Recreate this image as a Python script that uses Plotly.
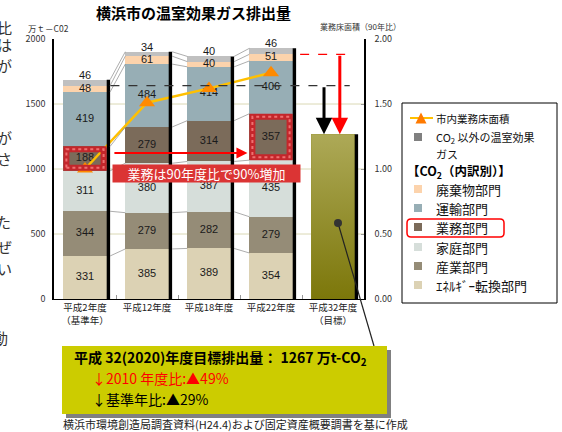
import plotly.graph_objects as go

# ---------------- data ----------------
categories = ["平成2年度<br>（基準年）", "平成12年度", "平成18年度", "平成22年度", "平成32年度<br>（目標）"]
energy = [331, 385, 389, 354]        # ｴﾈﾙｷﾞｰ転換部門
industry = [344, 279, 282, 279]      # 産業部門
household = [311, 380, 387, 435]     # 家庭部門
business = [188, 279, 314, 357]      # 業務部門
transport = [419, 484, 414, 406]     # 運輸部門
waste = [48, 61, 40, 51]             # 廃棄物部門
other_gases = [46, 34, 40, 46]       # CO2以外の温室効果ガス
target_2020 = [1267]                 # 平成32年度目標
floor_area = [1.00, 1.51, 1.62, 1.74]  # 市内業務床面積(90年比)
left_ticks = [0, 500, 1000, 1500, 2000]
right_ticks = [0, 0.5, 1.0, 1.5, 2.0]

series_names = ["ｴﾈﾙｷﾞｰ転換部門", "産業部門", "家庭部門", "業務部門", "運輸部門", "廃棄物部門",
                "CO2以外の温室効果ガス"]
series_values = [energy, industry, household, business, transport, waste, other_gases]
series_colors = ["#DCD2B4", "#958C77", "#D6DEDA", "#7B6B5A", "#97AEB5", "#FCD3AC", "#C0C0C0"]
legend_other_color = "#808080"

FONT = "Noto Sans CJK JP"
W, H = 562, 432
L, R, T, B = 54, 364, 39, 299   # plot area in pixels


def X(px):
    return (px - L) / (R - L)


def Y(py):
    return (B - py) / (B - T)


annotations = []
shapes = []


def text(px, py, s, size, color="#111", anchor="left", bold=False, **kw):
    annotations.append(dict(x=X(px), y=Y(py), xref="paper", yref="paper", xanchor=anchor,
                            yanchor="middle", text=f"<b>{s}</b>" if bold else s, showarrow=False,
                            font=dict(family=FONT, size=size, color=color), **kw))


fig = go.Figure()
xs = list(range(len(energy)))
BW = 0.7

for name, vals, col in zip(series_names, series_values, series_colors):
    fig.add_bar(x=xs, y=vals, name=name, width=BW, marker=dict(color=col, line=dict(width=0)),
                showlegend=False)

fig.add_bar(x=[4], y=target_2020, name="平成32年度目標", width=BW,
            marker=dict(color="#958F2E", line=dict(width=0)), showlegend=False)
tv = target_2020[0]
fig.add_scatter(x=[4 - BW / 2, 4 + BW / 2, 4 + BW / 2, 4 - BW / 2, 4 - BW / 2],
                y=[0, 0, tv, tv, 0], mode="lines", fill="toself", line=dict(width=0),
                fillgradient=dict(type="vertical", colorscale=[[0, "#7C770A"], [1, "#ADA957"]]),
                showlegend=False, hoverinfo="skip")

# cumulative levels
cums = []
for i in xs:
    c = [0]
    for vals in series_values:
        c.append(c[-1] + vals[i])
    cums.append(c)

# segment labels
lx, ly, lt = [], [], []
for i in xs:
    for k, vals in enumerate(series_values):
        lx.append(i)
        if k == len(series_values) - 1:
            ly.append(cums[i][-1] + 30)
        else:
            ly.append((cums[i][k] + cums[i][k + 1]) / 2)
        lt.append(str(vals[i]))
fig.add_scatter(x=lx, y=ly, text=lt, mode="text", textposition="middle center",
                textfont=dict(family="Liberation Sans", size=11, color="#1A1A1A"),
                showlegend=False, hoverinfo="skip")

# floor area line (right axis)
fig.add_scatter(x=xs, y=floor_area, yaxis="y2", mode="lines+markers", name="市内業務床面積",
                line=dict(color="#FFC000", width=2.5),
                marker=dict(symbol="triangle-up", size=14, color="#FF8A00"),
                showlegend=False)

# gridlines
for v in left_ticks[1:-1]:
    shapes.append(dict(type="line", xref="x", yref="y", x0=-0.5, x1=4.5, y0=v, y1=v,
                       line=dict(color="#DAD8B4", width=1), layer="below"))

# black right-edge shadows
totals = [c[-1] for c in cums] + [tv]
for i, tot in enumerate(totals):
    shapes.append(dict(type="rect", xref="x", yref="y", x0=i + BW / 2, x1=i + BW / 2 + 0.055,
                       y0=0, y1=tot, fillcolor="#000000", line=dict(width=0)))

# series connector lines
for i in range(len(xs) - 1):
    for k in range(1, len(series_values) + 1):
        shapes.append(dict(type="line", xref="x", yref="y", x0=i + BW / 2 + 0.055, x1=i + 1 - BW / 2,
                           y0=cums[i][k], y1=cums[i + 1][k],
                           line=dict(color="#8A8A8A", width=0.7)))

# highlight boxes on 業務部門 (base year and 平成22)
bk = series_names.index("業務部門")
for i in (0, 3):
    for col, w, dash in (("#C4262B", 6, "solid"), ("#EE7070", 2, "dot")):
        shapes.append(dict(type="rect", xref="x", yref="y",
                           x0=i - BW / 2 + 0.05, x1=i + BW / 2 - 0.05,
                           y0=cums[i][bk] + 23, y1=cums[i][bk + 1] - 23,
                           line=dict(color=col, width=w, dash=dash)))

# dashed reference lines
co2_base = cums[0][len(series_values) - 1]
co2_2010 = cums[3][len(series_values) - 1]
shapes.append(dict(type="line", xref="x", yref="y", x0=0.41, x1=4.27, y0=co2_base, y1=co2_base,
                   line=dict(color="#333333", width=1.2, dash="dash")))
shapes.append(dict(type="line", xref="x", yref="y", x0=3.47, x1=4.23, y0=co2_2010, y1=co2_2010,
                   line=dict(color="#FF0000", width=1.2, dash="dash")))

# arrows
annotations.append(dict(x=3.855, y=tv, ax=3.855, ay=co2_base, xref="x", yref="y", axref="x", ayref="y",
                        text="", showarrow=True, arrowhead=2, arrowsize=1.1, arrowwidth=3,
                        arrowcolor="#000000", standoff=0))
annotations.append(dict(x=4.11, y=tv, ax=4.11, ay=co2_2010, xref="x", yref="y", axref="x", ayref="y",
                        text="", showarrow=True, arrowhead=2, arrowsize=1.1, arrowwidth=3,
                        arrowcolor="#FF0000", standoff=0))
annotations.append(dict(x=2.62, y=1123, ax=0.45, ay=1123, xref="x", yref="y", axref="x", ayref="y",
                        text="", showarrow=True, arrowhead=2, arrowsize=1.1, arrowwidth=2,
                        arrowcolor="#FF0000", standoff=0))

# red label box
text(206, 174, "業務は90年度比で90%増加", 13, color="white", anchor="center",
     bgcolor="#DB3434", width=185, height=15)

# callout dot + line
shapes.append(dict(type="line", xref="paper", yref="paper", x0=X(338), y0=Y(223), x1=X(374), y1=Y(346),
                   line=dict(color="#222222", width=1.2)))
shapes.append(dict(type="circle", xref="paper", yref="paper", x0=X(334), x1=X(342), y0=Y(219), y1=Y(227),
                   fillcolor="#333333", line=dict(width=0)))

# title and axis titles
text(193, 13, "横浜市の温室効果ガス排出量", 15, color="#000", anchor="center", bold=True)
text(26, 28, "万ｔ－C02", 8.5, color="#333")
text(318, 27, "業務床面積（90年比）", 8, color="#333")

# ---------------- legend (drawn manually) ----------------
shapes.append(dict(type="rect", xref="paper", yref="paper", x0=X(402), x1=X(557), y0=Y(103), y1=Y(303),
                   line=dict(color="#000", width=1), fillcolor="white"))
shapes.append(dict(type="line", xref="paper", yref="paper", x0=X(410), x1=X(433), y0=Y(118), y1=Y(118),
                   line=dict(color="#FFC000", width=2)))
shapes.append(dict(type="path", xref="paper", yref="paper",
                   path=f"M {X(415.5)} {Y(123.5)} L {X(426.5)} {Y(123.5)} L {X(421)} {Y(112.5)} Z",
                   fillcolor="#FF7A00", line=dict(width=0)))
text(434, 118, "市内業務床面積", 10.5)

legend_items = [("CO<sub>2</sub> 以外の温室効果", legend_other_color, 137, 11),
                (series_names[5], series_colors[5], 189, 13),
                (series_names[4], series_colors[4], 208, 13),
                (series_names[3], series_colors[3], 227, 13),
                (series_names[2], series_colors[2], 247, 13),
                (series_names[1], series_colors[1], 266, 13),
                (series_names[0], series_colors[0], 285, 13)]
for name, col, py, fs in legend_items:
    shapes.append(dict(type="rect", xref="paper", yref="paper", x0=X(414), x1=X(422), y0=Y(py + 4),
                       y1=Y(py - 4), fillcolor=col, line=dict(width=0)))
    text(434, py, name, fs)
text(434, 154, "ガス", 11)
text(405, 171, "【CO<sub>2</sub>（内訳別）】", 12.5, color="#000", bold=True)

# red rounded rectangle around 業務部門
x0, x1, y0, y1, r = 407, 504, 219, 237, 4
p = (f"M {X(x0 + r)} {Y(y0)} L {X(x1 - r)} {Y(y0)} Q {X(x1)} {Y(y0)} {X(x1)} {Y(y0 + r)} "
     f"L {X(x1)} {Y(y1 - r)} Q {X(x1)} {Y(y1)} {X(x1 - r)} {Y(y1)} L {X(x0 + r)} {Y(y1)} "
     f"Q {X(x0)} {Y(y1)} {X(x0)} {Y(y1 - r)} L {X(x0)} {Y(y0 + r)} Q {X(x0)} {Y(y0)} {X(x0 + r)} {Y(y0)} Z")
shapes.append(dict(type="path", xref="paper", yref="paper", path=p, line=dict(color="#FF0000", width=1.5)))

# ---------------- bottom yellow box ----------------
shapes.append(dict(type="rect", xref="paper", yref="paper", x0=X(66), x1=X(391), y0=Y(350), y1=Y(418),
                   fillcolor="#808080", line=dict(width=0)))
shapes.append(dict(type="rect", xref="paper", yref="paper", x0=X(62), x1=X(387), y0=Y(346), y1=Y(414),
                   fillcolor="#CCCC00", line=dict(width=0)))
text(72, 358, "平成 32(2020)年度目標排出量： 1267 万t-CO<sub>2</sub>", 14, color="#000", bold=True)
text(90, 378, "↓2010 年度比:▲49%", 14, color="#FF0000")
text(90, 399, "↓基準年比:▲29%", 14, color="#000")
text(61, 424, "横浜市環境創造局調査資料(H24.4)および固定資産概要調書を基に作成", 11, color="#222")

# cropped body text at the left edge of the slide
for ch, py, rx in (("比", 28, 14), ("は", 44, 14), ("が", 66, 14), ("が", 137, 14), ("さ", 158, 14),
                   ("た", 222, 13), ("ぜ", 246, 14), ("い", 268, 14), ("動", 337, 10), ("り）", 361, 9)):
    text(rx, py, ch, 15, color="#333", anchor="right")

fig.update_layout(
    width=W, height=H, barmode="stack", bargap=0,
    margin=dict(l=L, r=W - R, t=T, b=H - B, pad=0),
    plot_bgcolor="white", paper_bgcolor="white",
    xaxis=dict(range=[-0.5, 4.5], tickvals=list(range(len(categories))), ticktext=categories,
               showgrid=False, zeroline=False, showline=True, linecolor="#000", linewidth=1,
               ticks="", tickfont=dict(family=FONT, size=9.5, color="#222"),
               minor=dict(tickvals=[0.5, 1.5, 2.5, 3.5], ticks="inside", ticklen=4, tickcolor="#999")),
    yaxis=dict(range=[0, 2000], tickvals=left_ticks, showgrid=False, zeroline=False, showline=True,
               linecolor="#000", linewidth=1.5, ticks="", ticklabelstandoff=5,
               tickfont=dict(family=FONT, size=9, color="#333")),
    yaxis2=dict(range=[0, 2], tickvals=right_ticks, tickformat=".2f", overlaying="y", side="right",
                showgrid=False, zeroline=False, showline=True, linecolor="#000", linewidth=1.5,
                ticks="inside", ticklen=3, tickcolor="#999", ticklabelstandoff=7,
                tickfont=dict(family=FONT, size=9, color="#333")),
    shapes=shapes, annotations=annotations, showlegend=False,
)

fig.write_html("out.html")
